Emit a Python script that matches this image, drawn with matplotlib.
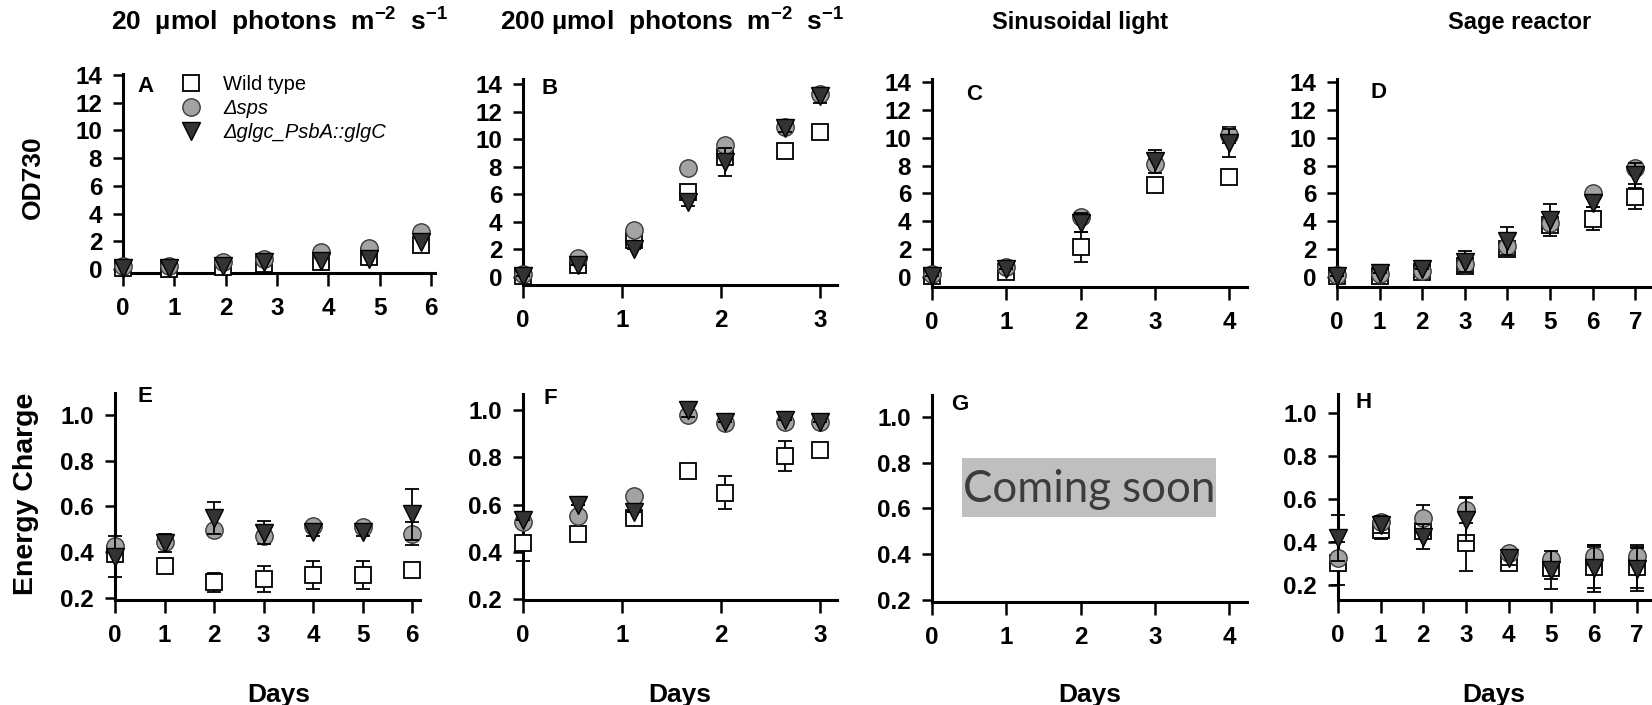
import matplotlib
matplotlib.use("Agg")
import matplotlib.pyplot as plt
from matplotlib.patches import Rectangle

plt.rcParams['font.family'] = ['Liberation Sans', 'DejaVu Sans']
plt.rcParams['mathtext.fontset'] = 'custom'
plt.rcParams['mathtext.rm'] = 'Liberation Sans:bold'
plt.rcParams['mathtext.default'] = 'rm'

W, H = 1652, 705

# ---- data ----
series_names = ['Wild type', 'Δsps', 'Δglgc_PsbA::glgC']

titles = [r'20  µmol  photons  m$^{-2}$  s$^{-1}$',
          r'200 µmol  photons  m$^{-2}$  s$^{-1}$',
          'Sinusoidal light', 'Sage reactor']

# A: 20 umol
days_a = [0, 0.9, 1.95, 2.75, 3.85, 4.8, 5.8]
wt_a = [0.05, 0.0, 0.15, 0.35, 0.5, 0.85, 1.7]
sps_a = [0.25, 0.25, 0.5, 0.75, 1.2, 1.55, 2.7]
glgc_a = [0.05, 0.05, 0.25, 0.5, 0.6, 0.7, 1.95]

# B: 200 umol
days_b = [0, 0.56, 1.12, 1.67, 2.04, 2.64, 3.0]
wt_b = [0.05, 0.85, 2.65, 6.2, 8.7, 9.15, 10.55]
sps_b = [0.25, 1.35, 3.4, 7.9, 9.55, 10.9, 13.25]
glgc_b = [0.05, 0.85, 2.05, 5.45, 8.35, 10.8, 13.1]
wt_b_err = [0, 0, 0, 0, 0.3, 0.5, 0]
glgc_b_err = [0, 0, 0, 0.3, 1.0, 0.3, 0.5]

# C: sinusoidal
days_c = [0, 1, 2, 3, 4]
wt_c = [0.05, 0.35, 2.15, 6.6, 7.2]
sps_c = [0.2, 0.75, 4.3, 8.1, 10.2]
glgc_c = [0.1, 0.6, 3.9, 8.3, 9.6]
wt_c_err = [0, 0, 1.05, 0.5, 0.4]
sps_c_err = [0, 0, 0.2, 0.4, 0.6]
glgc_c_err = [0, 0, 0.7, 0.8, 1.0]

# D: sage reactor
days_d = [0, 1, 2, 3, 4, 5, 6, 7]
wt_d = [0.1, 0.1, 0.35, 0.8, 2.0, 3.7, 4.2, 5.75]
sps_d = [0.15, 0.2, 0.4, 0.9, 2.2, 3.9, 6.0, 7.8]
glgc_d = [0.05, 0.25, 0.55, 1.1, 2.6, 4.1, 5.3, 7.3]
wt_d_err = [0, 0, 0, 0, 0.3, 0.3, 0.85, 0.9]
glgc_d_err = [0, 0, 0, 0.75, 1.0, 1.15, 0.3, 0.9]

# E: energy charge, 20 umol
days_e = [0, 1, 2, 3, 4, 5, 6]
wt_e = [0.39, 0.341, 0.268, 0.283, 0.30, 0.30, 0.324]
sps_e = [0.425, 0.445, 0.498, 0.47, 0.515, 0.51, 0.48]
glgc_e = [0.38, 0.44, 0.55, 0.485, 0.49, 0.49, 0.565]
wt_e_err = [0, 0, 0.04, 0.055, 0.06, 0.06, 0.03]
sps_e_err = [0, 0, 0, 0, 0, 0, 0.05]
glgc_e_err = [0.09, 0.04, 0.07, 0.05, 0.02, 0.02, 0.11]

# F: energy charge, 200 umol
wt_f = [0.437, 0.476, 0.545, 0.74, 0.65, 0.805, 0.83]
sps_f = [0.528, 0.55, 0.637, 0.98, 0.944, 0.95, 0.95]
glgc_f = [0.535, 0.60, 0.57, 1.0, 0.95, 0.96, 0.95]
wt_f_err = [0.075, 0, 0, 0, 0.07, 0.065, 0]
glgc_f_err = [0, 0, 0, 0.03, 0, 0, 0]

# H: energy charge, sage reactor
wt_h = [0.30, 0.456, 0.453, 0.397, 0.304, 0.278, 0.285, 0.285]
sps_h = [0.327, 0.495, 0.51, 0.55, 0.348, 0.32, 0.335, 0.335]
glgc_h = [0.417, 0.48, 0.425, 0.503, 0.324, 0.27, 0.278, 0.273]
wt_h_err = [0.1, 0.04, 0, 0.13, 0.03, 0.05, 0.1, 0.1]
sps_h_err = [0, 0, 0.06, 0.06, 0.02, 0.02, 0.04, 0.04]
glgc_h_err = [0.106, 0.04, 0.06, 0.1, 0.03, 0.09, 0.11, 0.1]

od_ticks = [0, 2, 4, 6, 8, 10, 12, 14]
ec_ticks = [0.2, 0.4, 0.6, 0.8, 1.0]

styles = [dict(marker='s', ms=11, mfc='white', mec='black', mew=1.3),
          dict(marker='o', ms=12.5, mfc='#a3a3a3', mec='#3a3a3a', mew=1.0),
          dict(marker='v', ms=12.5, mfc='#333333', mec='black', mew=1.0)]

fig = plt.figure(figsize=(W / 100, H / 100), dpi=100)


def px_axes(left, right, top, bottom):
    return fig.add_axes([left / W, 1 - bottom / H, (right - left) / W, (bottom - top) / H])


def style_axes(ax, xlim, ylim, xticks, yticks, fmt):
    ax.set_xlim(*xlim)
    ax.set_ylim(*ylim)
    for s in ['top', 'right']:
        ax.spines[s].set_visible(False)
    for s in ['left', 'bottom']:
        ax.spines[s].set_linewidth(2.2)
    ax.set_xticks(xticks)
    ax.set_yticks(yticks)
    ax.set_yticklabels([fmt.format(v) for v in yticks])
    ax.tick_params(axis='y', length=7, width=1.8, pad=8, labelsize=17.5)
    ax.tick_params(axis='x', length=9, width=1.8, pad=8, labelsize=17.5)
    for lab in ax.get_xticklabels() + ax.get_yticklabels():
        lab.set_fontweight('bold')


def draw_series(ax, days, vals, errs):
    handles = []
    for i, (v, e) in enumerate(zip(vals, errs)):
        if e is not None:
            ax.errorbar(days, v, yerr=e, fmt='none', ecolor='black', elinewidth=1.3,
                        capsize=5, capthick=1.3, zorder=2 + i, clip_on=False)
        h, = ax.plot(days, v, linestyle='none', zorder=3 + i, clip_on=False, **styles[i])
        handles.append(h)
    return handles


# top row
ax_a = px_axes(123, 435, 74, 273)
style_axes(ax_a, (0, 6.08), (-0.29, 14.07), range(7), od_ticks, '{:g}')
handles = draw_series(ax_a, days_a, [wt_a, sps_a, glgc_a], [None, None, None])

ax_b = px_axes(523, 837, 79, 285)
style_axes(ax_b, (0, 3.17), (-0.58, 14.36), range(4), od_ticks, '{:g}')
draw_series(ax_b, days_b, [wt_b, sps_b, glgc_b], [wt_b_err, None, glgc_b_err])

ax_c = px_axes(932, 1247, 79, 287)
style_axes(ax_c, (0, 4.24), (-0.72, 14.22), range(5), od_ticks, '{:g}')
draw_series(ax_c, days_c, [wt_c, sps_c, glgc_c], [wt_c_err, sps_c_err, glgc_c_err])

ax_d = px_axes(1337, 1660, 79, 287)
style_axes(ax_d, (0, 7.58), (-0.72, 14.22), range(8), od_ticks, '{:g}')
draw_series(ax_d, days_d, [wt_d, sps_d, glgc_d], [wt_d_err, None, glgc_d_err])

# bottom row
ax_e = px_axes(115, 420, 393, 600)
style_axes(ax_e, (0, 6.16), (0.191, 1.096), range(7), ec_ticks, '{:.1f}')
draw_series(ax_e, days_e, [wt_e, sps_e, glgc_e], [wt_e_err, sps_e_err, glgc_e_err])

ax_f = px_axes(523, 837, 394, 600)
style_axes(ax_f, (0, 3.17), (0.196, 1.068), range(4), ec_ticks, '{:.1f}')
draw_series(ax_f, days_b, [wt_f, sps_f, glgc_f], [wt_f_err, None, glgc_f_err])

ax_g = px_axes(932, 1247, 395, 602)
style_axes(ax_g, (0, 4.24), (0.191, 1.096), range(5), ec_ticks, '{:.1f}')
ax_g.add_patch(Rectangle((0.095, 0.411), 0.807, 0.285, transform=ax_g.transAxes,
                         facecolor='#bfbfbf', edgecolor='none', zorder=5))
ax_g.text(0.5, 0.545, 'Coming soon', transform=ax_g.transAxes, ha='center', va='center',
          fontsize=31.5, family='Lato', color='#3c3c3c', zorder=6)

ax_h = px_axes(1338, 1660, 394, 600)
style_axes(ax_h, (0, 7.55), (0.130, 1.088), range(8), ec_ticks, '{:.1f}')
draw_series(ax_h, days_d, [wt_h, sps_h, glgc_h], [wt_h_err, sps_h_err, glgc_h_err])

# panel letters
letters = [('A', 145, 86), ('B', 550, 88), ('C', 974, 95), ('D', 1379, 93),
           ('E', 145, 397), ('F', 550, 399), ('G', 960, 404), ('H', 1364, 402)]
for s, x, y in letters:
    fig.text(x / W, 1 - y / H, s, ha='center', va='center', fontsize=16, fontweight='bold')

# titles and axis labels
title_x = [279, 672, 1080, 1520]
title_size = [19, 19, 17, 17]
for t, x, fs in zip(titles, title_x, title_size):
    fig.text(x / W, 1 - 22 / H, t, ha='center', va='center', fontsize=fs, fontweight='bold')
days_x = [279, 680, 1090, 1494]
for x in days_x:
    fig.text(x / W, 1 - 695 / H, 'Days', ha='center', va='center', fontsize=19, fontweight='bold')

fig.text(33 / W, 1 - 177 / H, 'OD730', rotation=90, ha='center', va='center',
         fontsize=19, fontweight='bold')
fig.text(26 / W, 1 - 494 / H, 'Energy Charge', rotation=90, ha='center', va='center',
         fontsize=20.5, fontweight='bold')

# legend in panel A
leg = ax_a.legend(handles, series_names, loc='upper left', bbox_to_anchor=(181 / W, 1 - 75 / H),
                  bbox_transform=fig.transFigure, frameon=False, fontsize=14.5,
                  handlelength=1.0, handletextpad=1.1, labelspacing=0.25, borderpad=0,
                  borderaxespad=0)
for i, txt in enumerate(leg.get_texts()):
    if i > 0:
        txt.set_fontstyle('italic')

fig.savefig('out.png', dpi=100)
